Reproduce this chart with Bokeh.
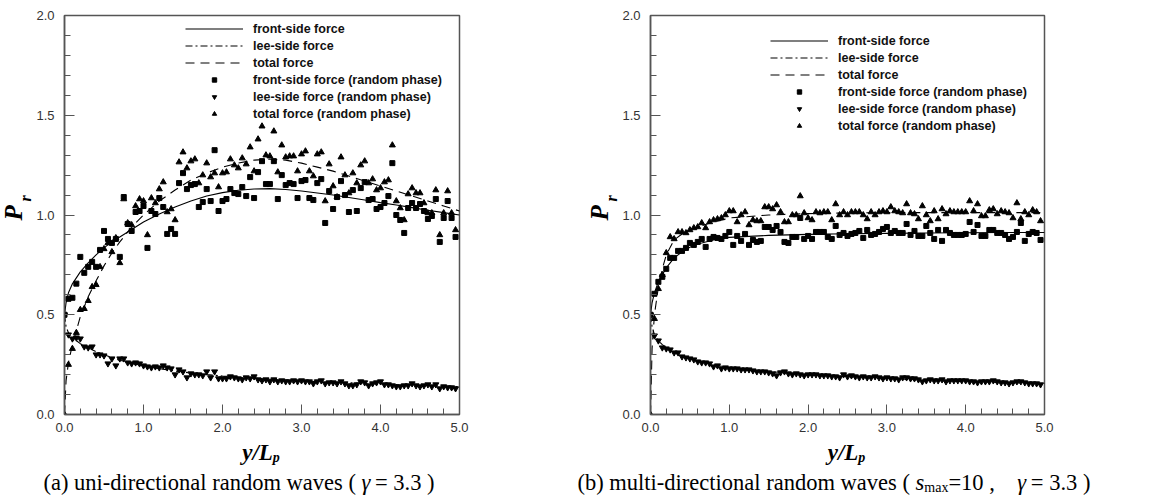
import math
from bokeh.plotting import figure
from bokeh.models import Range1d, FixedTicker, PrintfTickFormatter, Legend, LegendItem
from bokeh.core.properties import value
from bokeh.layouts import row, column
from bokeh.embed import file_html
from bokeh.resources import INLINE

# ---------------- data ----------------
x_pts = [round(i * 0.05, 2) for i in range(100)]

# panel (a) uni-directional
a_front = [0.50, 0.58, 0.585, 0.656, 0.79, 0.71, 0.74, 0.765, 0.74, 0.825,
           0.92, 0.88, 0.86, 0.88, 0.79, 1.09, 0.955, 0.92, 1.015, 1.02,
           1.045, 0.835, 1.02, 1.005, 1.085, 1.04, 0.905, 0.93, 0.905, 1.16,
           1.21, 1.13, 1.15, 1.155, 1.04, 1.065, 1.13, 1.07, 1.325, 1.02,
           1.07, 1.08, 1.13, 1.11, 1.105, 1.14, 1.095, 1.19, 1.085, 1.215,
           1.27, 1.155, 1.155, 1.27, 1.08, 1.20, 1.15, 1.16, 1.155, 1.085,
           1.17, 1.175, 1.085, 1.075, 1.16, 1.18, 0.96, 1.12, 1.03, 1.09,
           1.17, 1.10, 1.015, 1.125, 1.02, 1.135, 1.165, 1.075, 1.08, 1.03,
           1.04, 1.06, 1.095, 1.26, 1.00, 0.975, 0.91, 1.035, 1.06, 1.035,
           1.055, 1.02, 0.98, 0.995, 1.08, 0.865, 0.985, 1.07, 0.985, 0.89]
a_total = [0.0, 0.25, 0.33, 0.41, 0.525, 0.53, 0.57, 0.64, 0.65, 0.74,
           0.83, 0.86, 0.815, 0.885, 0.76, 1.08, 0.96, 0.95, 1.045, 1.08,
           1.07, 0.90, 1.085, 1.06, 1.13, 1.165, 1.015, 1.03, 0.975, 1.265,
           1.315, 1.235, 1.27, 1.28, 1.16, 1.20, 1.26, 1.19, 1.21, 1.14,
           1.21, 1.215, 1.28, 1.25, 1.235, 1.285, 1.255, 1.34, 1.22, 1.38,
           1.445, 1.30, 1.295, 1.42, 1.215, 1.35, 1.29, 1.295, 1.295, 1.22,
           1.305, 1.32, 1.22, 1.195, 1.305, 1.315, 1.07, 1.255, 1.145, 1.09,
           1.29, 1.20, 1.11, 1.21, 1.16, 1.25, 1.27, 1.16, 1.18, 1.125,
           1.135, 1.165, 1.175, 1.35, 1.07, 1.035, 0.975, 1.105, 1.135, 1.11,
           1.11, 1.06, 1.01, 1.01, 1.125, 0.90, 1.01, 1.12, 1.01, 0.925]
a_lee = [0.50, 0.40, 0.38, 0.385, 0.38, 0.34, 0.335, 0.34, 0.30, 0.30,
         0.295, 0.255, 0.28, 0.245, 0.28, 0.28, 0.26, 0.255, 0.26, 0.255,
         0.245, 0.24, 0.235, 0.24, 0.235, 0.245, 0.235, 0.23, 0.20, 0.225,
         0.215, 0.185, 0.205, 0.20, 0.20, 0.195, 0.215, 0.185, 0.215, 0.18,
         0.18, 0.18, 0.19, 0.185, 0.18, 0.175, 0.185, 0.18, 0.19, 0.175,
         0.17, 0.175, 0.165, 0.175, 0.165, 0.17, 0.165, 0.165, 0.17, 0.165,
         0.17, 0.165, 0.165, 0.155, 0.165, 0.17, 0.155, 0.16, 0.16, 0.155,
         0.165, 0.155, 0.145, 0.145, 0.15, 0.165, 0.16, 0.145, 0.155, 0.16,
         0.165, 0.15, 0.15, 0.145, 0.14, 0.14, 0.145, 0.145, 0.155, 0.145,
         0.14, 0.145, 0.15, 0.14, 0.15, 0.13, 0.14, 0.135, 0.135, 0.13]

a_curve_x = [0, 0.02, 0.05, 0.1, 0.2, 0.3, 0.4, 0.5, 0.6, 0.7, 0.8, 0.9, 1.0, 1.2, 1.4, 1.6,
             1.8, 2.0, 2.2, 2.4, 2.6, 2.8, 3.0, 3.2, 3.4, 3.6, 3.8, 4.0, 4.2, 4.4, 4.6, 4.8, 5.0]
a_curve_front = [0.5, 0.56, 0.61, 0.655, 0.715, 0.76, 0.80, 0.835, 0.865, 0.89, 0.915, 0.94, 0.965,
                 1.005, 1.04, 1.07, 1.095, 1.112, 1.124, 1.13, 1.132, 1.128, 1.12, 1.11, 1.10, 1.088,
                 1.075, 1.062, 1.05, 1.037, 1.024, 1.012, 1.0]
a_curve_total = [0.0, 0.17, 0.26, 0.35, 0.49, 0.59, 0.67, 0.745, 0.81, 0.865, 0.915, 0.96, 1.0,
                 1.07, 1.125, 1.175, 1.21, 1.24, 1.26, 1.275, 1.28, 1.275, 1.26, 1.24, 1.22, 1.195,
                 1.17, 1.145, 1.12, 1.095, 1.07, 1.045, 1.02]
a_curve_lee = [0.5, 0.44, 0.41, 0.385, 0.355, 0.335, 0.315, 0.30, 0.285, 0.272, 0.262, 0.252, 0.244,
               0.23, 0.218, 0.208, 0.2, 0.193, 0.187, 0.182, 0.177, 0.173, 0.169, 0.165, 0.162,
               0.159, 0.156, 0.153, 0.15, 0.147, 0.145, 0.142, 0.14]

# panel (b) multi-directional
b_front = [0.50, 0.605, 0.665, 0.69, 0.73, 0.785, 0.785, 0.82, 0.82, 0.835,
           0.86, 0.85, 0.865, 0.88, 0.84, 0.88, 0.89, 0.885, 0.88, 0.895,
           0.915, 0.85, 0.895, 0.87, 0.905, 0.85, 0.875, 0.865, 0.87, 0.94,
           0.94, 0.925, 0.945, 0.915, 0.865, 0.86, 0.89, 0.89, 0.985, 0.88,
           0.895, 0.88, 0.915, 0.915, 0.915, 0.89, 0.88, 0.945, 0.90, 0.91,
           0.895, 0.905, 0.91, 0.92, 0.885, 0.925, 0.90, 0.905, 0.915, 0.93,
           0.94, 0.91, 0.92, 0.91, 0.91, 0.955, 0.90, 0.92, 0.895, 0.895,
           0.945, 0.91, 0.88, 0.925, 0.87, 0.925, 0.91, 0.90, 0.90, 0.90,
           0.905, 0.965, 0.915, 0.95, 0.895, 0.895, 0.925, 0.925, 0.91, 0.91,
           0.90, 0.88, 0.89, 0.915, 0.96, 0.87, 0.905, 0.915, 0.91, 0.875]
b_total = [0.0, 0.48, 0.63, 0.70, 0.81, 0.89, 0.88, 0.915, 0.915, 0.91,
           0.925, 0.935, 0.94, 0.96, 0.935, 0.965, 0.975, 0.98, 0.985, 1.0,
           1.02, 1.02, 0.965, 1.0, 1.015, 0.95, 0.975, 0.97, 0.97, 1.04,
           1.04, 1.03, 1.05, 1.015, 0.965, 0.965, 1.0, 1.0, 1.095, 1.01,
           0.985, 0.975, 1.015, 1.01, 1.015, 1.015, 0.975, 1.055, 1.0, 1.015,
           1.0, 1.015, 1.015, 1.015, 1.0, 0.98, 1.015, 1.0, 1.015, 1.02,
           1.015, 1.04, 1.02, 1.015, 1.01, 1.055, 1.01, 1.005, 0.98, 1.045,
           1.0, 0.97, 1.02, 0.98, 1.03, 1.005, 1.02, 1.015, 1.015, 1.015,
           1.015, 1.07, 1.02, 1.055, 0.995, 0.995, 1.025, 1.03, 1.005, 1.02,
           1.015, 1.01, 0.985, 1.06, 0.98, 1.015, 1.0, 1.025, 1.015, 0.97]
b_lee = [0.50, 0.395, 0.37, 0.335, 0.33, 0.325, 0.31, 0.31, 0.29, 0.285,
         0.28, 0.275, 0.265, 0.26, 0.26, 0.255, 0.24, 0.245, 0.23, 0.235,
         0.23, 0.23, 0.23, 0.225, 0.225, 0.225, 0.22, 0.215, 0.215, 0.215,
         0.21, 0.205, 0.195, 0.21, 0.215, 0.205, 0.2, 0.205, 0.2, 0.195,
         0.2, 0.2, 0.2, 0.195, 0.195, 0.195, 0.19, 0.19, 0.185, 0.2,
         0.19, 0.195, 0.19, 0.185, 0.19, 0.185, 0.185, 0.19, 0.185, 0.18,
         0.185, 0.18, 0.18, 0.175, 0.185, 0.185, 0.18, 0.18, 0.175, 0.165,
         0.17, 0.175, 0.17, 0.17, 0.175, 0.165, 0.17, 0.17, 0.17, 0.17,
         0.17, 0.165, 0.165, 0.16, 0.165, 0.165, 0.165, 0.17, 0.165, 0.16,
         0.16, 0.155, 0.16, 0.165, 0.165, 0.16, 0.155, 0.155, 0.155, 0.15]

b_curve_x = [0, 0.02, 0.05, 0.1, 0.15, 0.2, 0.3, 0.4, 0.5, 0.6, 0.8, 1.0, 1.5, 2.0, 2.5, 3.0, 3.5, 4.0, 4.5, 5.0]
b_curve_front = [0.5, 0.56, 0.61, 0.665, 0.70, 0.735, 0.785, 0.815, 0.838, 0.855, 0.875, 0.888, 0.898,
                 0.903, 0.906, 0.908, 0.91, 0.911, 0.912, 0.912]
b_curve_total = [0.0, 0.33, 0.50, 0.64, 0.73, 0.80, 0.875, 0.905, 0.925, 0.94, 0.965, 0.985, 1.0,
                 1.007, 1.01, 1.012, 1.012, 1.012, 1.012, 1.012]
b_curve_lee = [0.5, 0.44, 0.40, 0.37, 0.35, 0.335, 0.31, 0.293, 0.28, 0.268, 0.25, 0.235, 0.215,
               0.2, 0.19, 0.18, 0.172, 0.165, 0.16, 0.155]

y_major = [0.0, 0.5, 1.0, 1.5, 2.0]
y_minor = [round(i * 0.1, 1) for i in range(21)]
x_major = [0.0, 1.0, 2.0, 3.0, 4.0, 5.0]
x_minor = [round(i * 0.2, 1) for i in range(26)]

legend_labels = ["front-side force", "lee-side force", "total force",
                 "front-side force (random phase)", "lee-side force (random phase)",
                 "total force (random phase)"]

# Times (Liberation Serif) advance widths per 1000 em, for laying out text pieces
TW = {" ": 250, "(": 333, ")": 333, "-": 333, ".": 250, ",": 250, "=": 564, "/": 278,
      "a": 444, "b": 500, "c": 444, "d": 500, "e": 444, "i": 278, "l": 278, "m": 778,
      "n": 500, "o": 500, "r": 333, "s": 389, "t": 278, "u": 500, "v": 500, "w": 722,
      "x": 500, "y": 444, "L": 611, "p": 500, "γ": 600}


def tw(s, size):
    return sum(TW.get(c, 500) for c in s) * size / 1000.0


SERIF = "Liberation Serif"
SANS = "Liberation Sans"
AX = "#555555"
H_MAIN = 440


def strip(w, h):
    f = figure(width=w, height=h, x_range=Range1d(0, w), y_range=Range1d(0, h),
               output_backend="svg", toolbar_location=None, title_location=None,
               min_border=0, min_border_left=0, min_border_right=0,
               min_border_top=0, min_border_bottom=0,
               x_axis_location=None, y_axis_location=None)
    f.grid.visible = False
    f.outline_line_color = None
    f.background_fill_color = "white"
    f.border_fill_color = "white"
    return f


def put(f, x, y, txt, size, style="normal", angle=0.0):
    # (x, y) is the left end of the text, vertically at its middle
    f.text(x=[x], y=[y], text=[txt], angle=angle, text_font=value(SERIF),
           text_font_size=value(f"{size}px"), text_font_style=style,
           text_align="left", text_baseline="middle", text_color="black")


def build(xs, front, lee, total, cx, cf, cl, ct, width, border, legend_loc):
    left, right, top, bottom = border
    p = figure(width=width, height=H_MAIN, x_range=Range1d(0, 5), y_range=Range1d(0, 2),
               output_backend="svg", toolbar_location=None, title_location=None,
               min_border_left=left, min_border_right=right,
               min_border_top=top, min_border_bottom=bottom)
    p.xgrid.visible = False
    p.ygrid.visible = False
    p.outline_line_color = AX
    p.outline_line_width = 1.5
    p.background_fill_color = "white"
    p.border_fill_color = "white"

    p.xaxis.ticker = FixedTicker(ticks=x_major, minor_ticks=x_minor)
    p.yaxis.ticker = FixedTicker(ticks=y_major, minor_ticks=y_minor)
    p.axis.formatter = PrintfTickFormatter(format="%.1f")
    p.axis.major_tick_in = 10
    p.axis.major_tick_out = 0
    p.axis.minor_tick_in = 6
    p.axis.minor_tick_out = 0
    p.axis.axis_line_color = AX
    p.axis.axis_line_width = 1.5
    p.axis.major_tick_line_color = AX
    p.axis.minor_tick_line_color = AX
    p.axis.major_label_text_font = SANS
    p.axis.major_label_text_font_size = "13px"
    p.axis.major_label_text_color = "#333333"
    p.yaxis.major_label_standoff = 10
    p.xaxis.major_label_standoff = 8

    r1 = p.line(cx, cf, line_color="black", line_width=1.1)
    r2 = p.line(cx, cl, line_color="black", line_width=1.1, line_dash="7 3 2 3")
    r3 = p.line(cx, ct, line_color="black", line_width=1.1, line_dash="9 6")
    r4 = p.scatter(xs, front, marker="square", size=5, color="black")
    r5 = p.scatter(xs, lee, marker="inverted_triangle", size=6, color="black")
    r6 = p.scatter(xs, total, marker="triangle", size=6, color="black")

    items = [LegendItem(label=lab, renderers=[r]) for lab, r in
             zip(legend_labels, [r1, r2, r3, r4, r5, r6])]
    leg = Legend(items=items, location=legend_loc, glyph_width=58, glyph_height=11,
                 label_height=17, label_standoff=10, spacing=0, padding=0, margin=0,
                 border_line_alpha=0, background_fill_alpha=0,
                 label_text_font=SANS, label_text_font_style="bold",
                 label_text_font_size="12.5px", label_text_color="#111111")
    p.add_layout(leg)
    return p


def ytitle(width, cx_p, cx_r):
    f = strip(width, H_MAIN)
    put(f, cx_p, H_MAIN - 226, "P", 25, "bold italic", math.pi / 2)
    put(f, cx_r, H_MAIN - 205, "r", 16, "bold italic", math.pi / 2)
    return f


# ---- panels ----
ya = ytitle(33, 13, 25)
pa = build(x_pts, a_front, a_lee, a_total, a_curve_x, a_curve_front, a_curve_lee, a_curve_total,
           543, (29, 117, 15, 25), (121, 292))
yb = ytitle(43, 23, 35)
pb = build(x_pts, b_front, b_lee, b_total, b_curve_x, b_curve_front, b_curve_lee, b_curve_total,
           533, (29, 108, 14, 26), (120, 280))

# ---- bottom strip: x titles and captions ----
H_BOT = 56
bot = strip(1152, H_BOT)


def sy(screen_y):
    # page y (from top) -> strip data y
    return H_BOT - (screen_y - H_MAIN)


for cxp in (260.5, 846.0):
    w1 = tw("y/L", 23)
    x0 = cxp - (w1 + 7) / 2
    put(bot, x0, sy(452), "y/L", 23, "bold italic")
    put(bot, x0 + w1, sy(457), "p", 14, "bold italic")

CS = 22.5
cap_a = (43, [("(a) uni-directional random waves ( ", "normal", CS, 0),
              ("γ", "italic", CS, 0),
              (" = 3.3 )", "normal", CS, 0)])
cap_b = (577, [("(b) multi-directional random waves ( ", "normal", CS, 0),
               ("s", "italic", CS, 0),
               ("max", "normal", 14, 5),
               ("  =10 ,  ", "normal", CS, 0),
               ("γ", "italic", CS, 0),
               (" = 3.3 )", "normal", CS, 0)])
for x_start, pieces in (cap_a, cap_b):
    xo = x_start
    for txt, style, size, dy in pieces:
        put(bot, xo, sy(482 + dy), txt, size, style)
        xo += tw(txt, size)

layout = column(row(ya, pa, yb, pb), bot)
open("out.html", "w").write(file_html(layout, INLINE))
